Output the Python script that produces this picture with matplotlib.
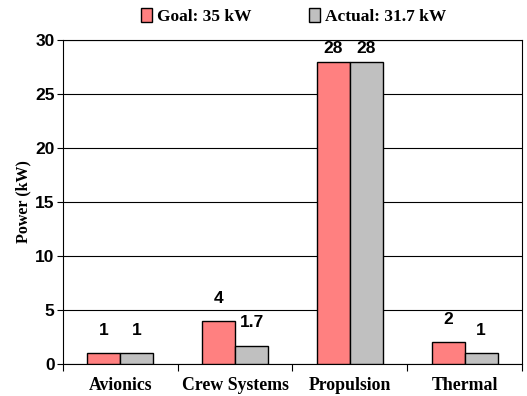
import matplotlib.pyplot as plt
import numpy as np

categories = ['Avionics', 'Crew Systems', 'Propulsion', 'Thermal']
goal = [1, 4, 28, 2]
actual = [1, 1.7, 28, 1]
goal_label = 'Goal: 35 kW'
actual_label = 'Actual: 31.7 kW'

serif = 'Liberation Serif'
sans = 'Liberation Sans'

fig = plt.figure(figsize=(5.27, 3.96), dpi=100)
ax = fig.add_axes([0.1195, 0.0808, 0.871, 0.818])

x = np.arange(len(categories))
w = 0.287
b1 = ax.bar(x - w / 2, goal, w, color='#FF8080', edgecolor='black', linewidth=1, label=goal_label, zorder=3)
b2 = ax.bar(x + w / 2, actual, w, color='#C0C0C0', edgecolor='black', linewidth=1, label=actual_label, zorder=3)

# value labels above each bar
for bars, vals in [(b1, goal), (b2, actual)]:
    for rect, v in zip(bars, vals):
        off = 4 if v > 25 else 11
        ax.annotate(f'{v:g}', (rect.get_x() + rect.get_width() / 2, v),
                    xytext=(0, off), textcoords='offset points',
                    ha='center', va='bottom', fontsize=12.5, fontweight='bold',
                    family=sans, zorder=4)

ax.set_xlim(-0.5, len(categories) - 0.5)
ax.set_ylim(0, 30)
ax.set_yticks(range(0, 31, 5))
ax.yaxis.grid(True, color='black', linewidth=0.8, zorder=0)

# category names between boundary ticks
ax.set_xticks(np.arange(-0.5, len(categories), 1))
ax.set_xticklabels([])
ax.set_xticks(x, minor=True)
ax.set_xticklabels(categories, minor=True, fontsize=12.8, fontweight='bold', family=serif)
ax.tick_params(axis='x', which='minor', length=0, pad=9)
ax.tick_params(axis='x', which='major', length=5, width=0.8, direction='out')
ax.tick_params(axis='y', length=4, width=0.8, direction='out', pad=2)
for lbl in ax.get_yticklabels():
    lbl.set_fontsize(12.5)
    lbl.set_fontweight('bold')
    lbl.set_family(sans)

for s in ax.spines.values():
    s.set_color('black')
    s.set_linewidth(0.8)

ax.set_ylabel('Power (kW)', fontsize=11.5, fontweight='bold', family=serif, labelpad=3)

fig.legend(handles=[b1, b2], loc='upper center', bbox_to_anchor=(0.557, 1.02), ncol=2,
           frameon=False, prop={'family': serif, 'weight': 'bold', 'size': 12.5},
           handlelength=0.65, handleheight=0.85, handletextpad=0.3, columnspacing=3.3)

fig.savefig('out.png', dpi=100)
